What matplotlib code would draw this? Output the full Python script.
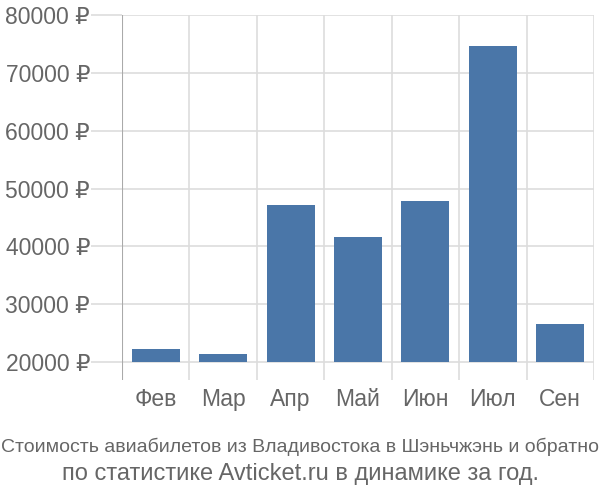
import matplotlib
matplotlib.use("Agg")
import matplotlib.pyplot as plt
import numpy as np

months = ["Фев", "Мар", "Апр", "Май", "Июн", "Июл", "Сен"]
prices = [22200, 21400, 47100, 41600, 47900, 74700, 26600]
yticks = [20000, 30000, 40000, 50000, 60000, 70000, 80000]
baseline = 20000

plt.rcParams["font.family"] = ["Liberation Sans", "DejaVu Sans"]
text_color = "#666666"
grid_color = "#dddddd"

fig = plt.figure(figsize=(6, 5), dpi=100)
ax = fig.add_axes([122 / 600, 1 - 380 / 500, (594 - 122) / 600, (380 - 15) / 500])

x = np.arange(len(months))
ax.bar(x, np.array(prices) - baseline, bottom=baseline, width=0.71,
       color="#4a76a8", zorder=3)

ax.set_xlim(-0.5, len(months) - 0.5)
ax.set_ylim(16890, 80000)

ax.set_yticks(yticks)
ax.set_yticklabels([f"{v} ₽" for v in yticks])
ax.set_xticks(x)
ax.set_xticklabels(months)

# separators between categories
for b in np.arange(len(months) + 1) - 0.5:
    ax.axvline(b, color=grid_color, lw=1.2, zorder=1)
for v in yticks:
    ax.axhline(v, color=grid_color, lw=1.2, zorder=1)
ax.axvline(-0.5, color="#aaaaaa", lw=1.5, zorder=2)

for s in ax.spines.values():
    s.set_visible(False)
ax.tick_params(axis="y", length=22, color=grid_color, width=1.2,
               labelsize=16.5, labelcolor=text_color, pad=1)
ax.tick_params(axis="x", length=0, labelsize=16.5, labelcolor=text_color, pad=6)

fig.text(0.5, 1 - 447 / 500, "Стоимость авиабилетов из Владивостока в Шэньчжэнь и обратно",
         ha="center", va="center", fontsize=14, color=text_color)
fig.text(0.5, 1 - 474 / 500, "по статистике Avticket.ru в динамике за год.",
         ha="center", va="center", fontsize=17, color=text_color)

fig.savefig("out.png", dpi=100)
